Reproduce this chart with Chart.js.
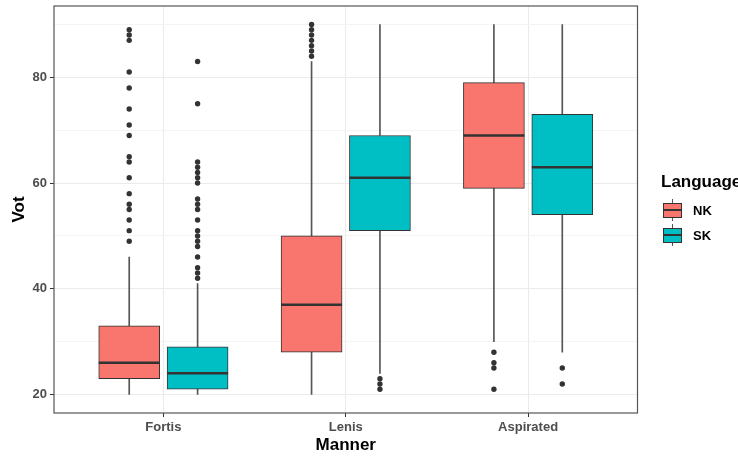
<!DOCTYPE html>
<html>
<head>
<meta charset="utf-8">
<script src="https://cdn.jsdelivr.net/npm/chart.js@4.4.1/dist/chart.umd.min.js"></script>
<style>
  body { margin: 0; background: #fff; font-family: "Liberation Sans", Arial, sans-serif; }
  #wrap { position: relative; width: 738px; height: 456px; overflow: hidden; }
  .lg-title { position: absolute; left: 661px; top: 172px; font-size: 17px; font-weight: bold; color: #000; white-space: nowrap; }
  .lg-key { position: absolute; left: 663px; width: 19px; height: 22px; }
  .lg-key .wh { position: absolute; left: 9px; top: 0; width: 1px; height: 22px; background: #555; }
  .lg-key .bx { position: absolute; left: 0; top: 4px; width: 17px; height: 12.5px; border: 1px solid #333; }
  .lg-key .md { position: absolute; left: 0; top: 10px; width: 19px; height: 2px; background: #333; }
  .lg-lab { position: absolute; left: 693px; font-size: 13px; font-weight: bold; color: #000; }
</style>
</head>
<body>
<div id="wrap">
  <canvas id="myChart" width="738" height="456"></canvas>
  <div class="lg-title">Language</div>
  <div class="lg-key" style="top:199px"><div class="wh"></div><div class="bx" style="background:#F8766D"></div><div class="md"></div></div>
  <div class="lg-lab" style="top:203px">NK</div>
  <div class="lg-key" style="top:224px"><div class="wh"></div><div class="bx" style="background:#00BFC4"></div><div class="md"></div></div>
  <div class="lg-lab" style="top:228px">SK</div>
</div>
<script>
// categories and groups
var categories = ['Fortis', 'Lenis', 'Aspirated'];
var languages = ['NK', 'SK'];
var colors = ['#F8766D', '#00BFC4'];
var yTicks = [20, 30, 40, 50, 60, 70, 80, 90];
var yLabels = [20, 40, 60, 80];

// box statistics per language, in category order
var nkLow = [20, 20, 30];
var nkQ1 = [23, 28, 59];
var nkMed = [26, 37, 69];
var nkQ3 = [33, 50, 79];
var nkHigh = [46, 83, 90];

var skLow = [20, 24, 28];
var skQ1 = [21, 51, 54];
var skMed = [24, 61, 63];
var skQ3 = [29, 69, 73];
var skHigh = [41, 90, 90];

// outliers per category
var nkOut = [
    [89, 88, 87, 81, 78, 74, 71, 69, 65, 64, 61, 58, 56, 55, 53, 51, 49],
    [90, 89, 88, 87, 86, 85, 84],
    [28, 26, 25, 21]
];
var skOut = [
    [83, 75, 64, 63, 62, 61, 60, 57, 56, 55, 53, 51, 50, 49, 48, 46, 44, 43, 42],
    [23, 22, 21],
    [25, 22]
];

var dodge = [-0.1875, 0.1875];
var stats = [
    { low: nkLow, q1: nkQ1, med: nkMed, q3: nkQ3, high: nkHigh, out: nkOut },
    { low: skLow, q1: skQ1, med: skMed, q3: skQ3, high: skHigh, out: skOut }
];

var whiskLo = [], whiskHi = [], medians = [], outliers = [];
var boxSets = [];
stats.forEach(function (s, g) {
    var boxes = [];
    categories.forEach(function (c, i) {
        var x = i + 1 + dodge[g];
        whiskLo.push({ x: x, y: [s.low[i], s.q1[i]] });
        whiskHi.push({ x: x, y: [s.q3[i], s.high[i]] });
        boxes.push({ x: x, y: [s.q1[i], s.q3[i]] });
        medians.push({ x: x, y: s.med[i] });
        s.out[i].forEach(function (v) { outliers.push({ x: x, y: v }); });
    });
    boxSets.push({
        type: 'bar', label: languages[g], data: boxes, grouped: false, barThickness: 61,
        backgroundColor: colors[g], borderColor: '#333', borderWidth: 1, borderSkipped: false, order: 2
    });
});

var panelBorder = {
    id: 'panelBorder',
    afterDatasetsDraw: function (chart) {
        var a = chart.chartArea, ctx = chart.ctx;
        ctx.save();
        ctx.strokeStyle = '#555';
        ctx.lineWidth = 1.2;
        ctx.strokeRect(a.left, a.top, a.right - a.left, a.bottom - a.top);
        ctx.restore();
    }
};

var font = '"Liberation Sans", Arial, sans-serif';

var myChart = new Chart(document.getElementById('myChart').getContext('2d'), {
    type: 'bar',
    data: {
        datasets: [
            { type: 'scatter', data: outliers, pointRadius: 2.7, backgroundColor: '#333', borderWidth: 0, order: 0 },
            { type: 'scatter', data: medians, pointStyle: 'line', pointRadius: 30.5, borderColor: '#333', borderWidth: 2.5, order: 1 },
            boxSets[0],
            boxSets[1],
            { type: 'bar', data: whiskLo, grouped: false, barThickness: 1, backgroundColor: '#555', order: 3 },
            { type: 'bar', data: whiskHi, grouped: false, barThickness: 1, backgroundColor: '#555', order: 3 }
        ]
    },
    options: {
        responsive: false, animation: false,
        layout: { autoPadding: false, padding: { top: 6, right: 100.5, left: 0, bottom: 0 } },
        plugins: { legend: { display: false }, tooltip: { enabled: false } },
        scales: {
            x: {
                type: 'linear', min: 0.4, max: 3.6, offset: false,
                afterBuildTicks: function (s) { s.ticks = [1, 2, 3].map(function (v) { return { value: v }; }); },
                afterFit: function (s) { s.height = 43; s.paddingLeft = 0; s.paddingRight = 0; },
                grid: { offset: false, color: '#EBEBEB', lineWidth: 1, tickColor: '#333', tickLength: 4 },
                border: { display: false },
                ticks: {
                    autoSkip: false, maxRotation: 0, padding: 3, color: '#4D4D4D',
                    font: { family: font, size: 13, weight: 'bold' },
                    callback: function (v) { return categories[v - 1]; }
                },
                title: { display: true, text: 'Manner', color: '#000', padding: { top: 0, bottom: 2 },
                    font: { family: font, size: 17, weight: 'bold', lineHeight: 1 } }
            },
            y: {
                type: 'linear', min: 16.5, max: 93.5,
                afterBuildTicks: function (s) { s.ticks = yTicks.map(function (v) { return { value: v }; }); },
                afterFit: function (s) { s.width = 54; s.paddingTop = 0; s.paddingBottom = 0; },
                grid: {
                    color: function (c) { return yLabels.indexOf(c.tick.value) >= 0 ? '#EBEBEB' : '#F4F4F4'; },
                    tickColor: function (c) { return yLabels.indexOf(c.tick.value) >= 0 ? '#333' : 'rgba(0,0,0,0)'; },
                    lineWidth: 1, tickLength: 4
                },
                border: { display: false },
                ticks: {
                    padding: 3, color: '#4D4D4D',
                    font: { family: font, size: 13, weight: 'bold' },
                    callback: function (v) { return yLabels.indexOf(v) >= 0 ? String(v) : ''; }
                },
                title: { display: true, text: 'Vot', color: '#000', padding: { top: 11, bottom: 0 },
                    font: { family: font, size: 17, weight: 'bold', lineHeight: 1 } }
            }
        }
    },
    plugins: [panelBorder]
});
</script>
</body>
</html>
